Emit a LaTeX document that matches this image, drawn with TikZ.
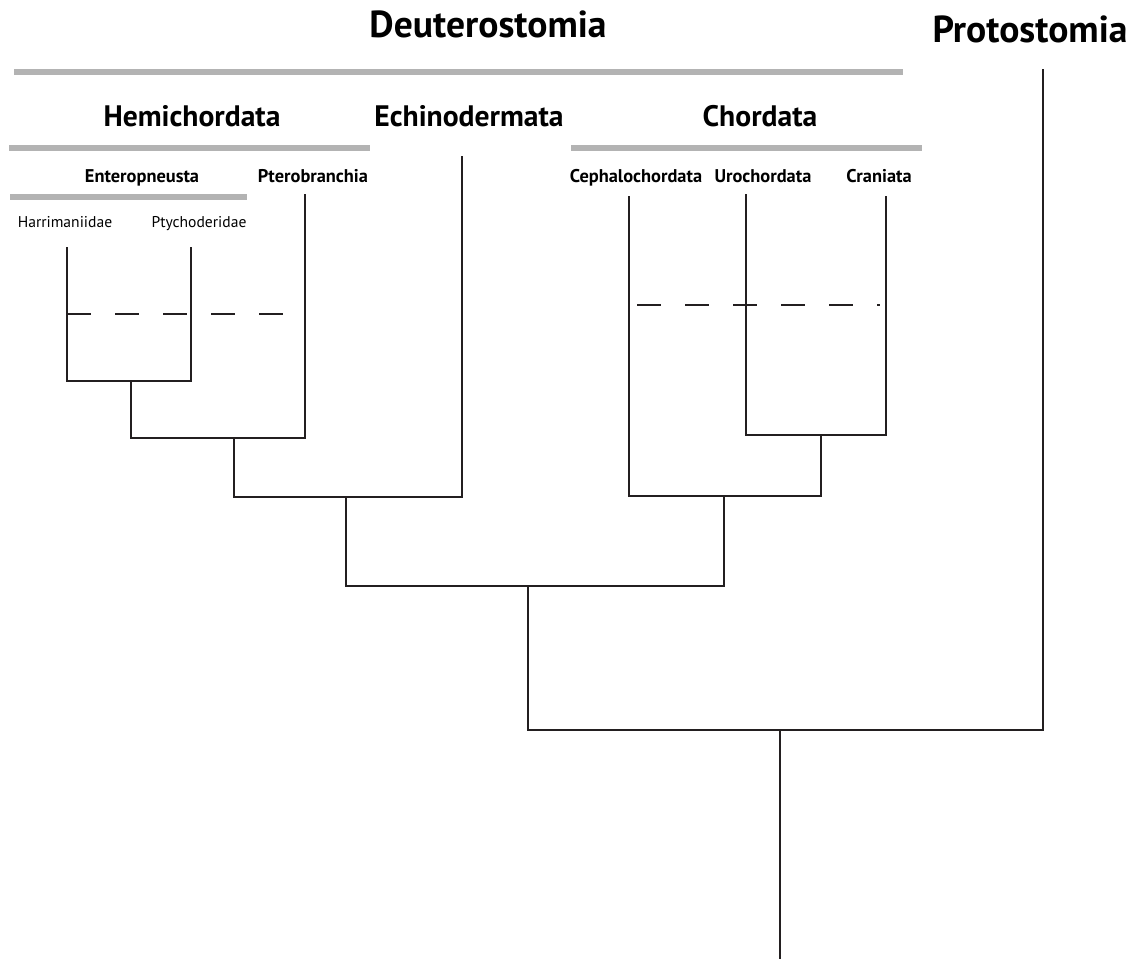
\documentclass[tikz,border=0pt]{standalone}
\usepackage{fontspec}
\setmainfont{PT Sans}
\usepackage{xcolor}
\usetikzlibrary{positioning}
\definecolor{inkdark}{HTML}{231F20}
\definecolor{bargrey}{HTML}{B3B3B3}
\tikzset{
  branch/.style={draw=inkdark, line width=1pt, line cap=rect},
  cladebar/.style={draw=bargrey, line width=3pt},
  dashline/.style={draw=inkdark, line width=0.8pt, dash pattern=on 12pt off 12pt},
  label/.style={inner sep=0pt, text height=1.5ex, text depth=0.3ex},
  bigtitle/.style={label, font=\bfseries\fontsize{18.8}{20}\selectfont},
  midtitle/.style={label, font=\bfseries\fontsize{14.8}{16}\selectfont},
  smalltitle/.style={label, font=\bfseries\fontsize{9.2}{11}\selectfont},
  tiptitle/.style={label, font=\fontsize{7.8}{9}\selectfont}
}
\begin{document}
\begin{tikzpicture}[x=0.5pt, y=-0.5pt]
    \useasboundingbox (0,0) rectangle (1137,959);

    % Group titles
    \node[bigtitle] (deut) at (488,31) {Deuterostomia};
    \node[bigtitle] (prot) at (1030,36) {Protostomia};
    \node[midtitle] (hemi) at (192,120) {Hemichordata};
    \node[midtitle] (echi) at (469,120) {Echinodermata};
    \node[midtitle] (chor) at (760,120) {Chordata};
    \node[smalltitle] (ente) at (142,176) {Enteropneusta};
    \node[smalltitle] (pter) at (313,176) {Pterobranchia};
    \node[smalltitle] (ceph) at (636,176) {Cephalochordata};
    \node[smalltitle] (uroc) at (763,176) {Urochordata};
    \node[smalltitle] (cran) at (879,176) {Craniata};
    \node[tiptitle] (harr) at (65,221) {Harrimaniidae};
    \node[tiptitle] (ptyc) at (199,221) {Ptychoderidae};

    % Grey clade bars
    \draw[cladebar] (14,72) -- (903,72);
    \draw[cladebar] (9,148) -- (370,148);
    \draw[cladebar] (571,148) -- (922,148);
    \draw[cladebar] (10,197) -- (247,197);

    % Tips
    \coordinate (tharr) at (67,248);
    \coordinate (tptyc) at (191,248);
    \coordinate (tpter) at (305,195);
    \coordinate (techi) at (462,157);
    \coordinate (tceph) at (629,197);
    \coordinate (turoc) at (746,195);
    \coordinate (tcran) at (886,197);
    \coordinate (tprot) at (1043,70);

    % Internal nodes
    \coordinate (nent) at (131,381);
    \coordinate (nhem) at (234,438);
    \coordinate (namb) at (346,497);
    \coordinate (nolf) at (821,435);
    \coordinate (ncho) at (724,496);
    \coordinate (ndeu) at (528,586);
    \coordinate (nbil) at (780,730);
    \coordinate (root) at (780,959);

    % Tree
    \draw[branch] (tharr) |- (nent) -| (tptyc);
    \draw[branch] (nent) |- (nhem) -| (tpter);
    \draw[branch] (nhem) |- (namb) -| (techi);
    \draw[branch] (turoc) |- (nolf) -| (tcran);
    \draw[branch] (tceph) |- (ncho) -| (nolf);
    \draw[branch] (namb) |- (ndeu) -| (ncho);
    \draw[branch] (ndeu) |- (nbil) -| (tprot);
    \draw[branch] (nbil) -- (root);

    % Dashed levels
    \draw[dashline] (67,314) -- (283,314);
    \draw[dashline] (637,305) -- (880,305);
\end{tikzpicture}
\end{document}
